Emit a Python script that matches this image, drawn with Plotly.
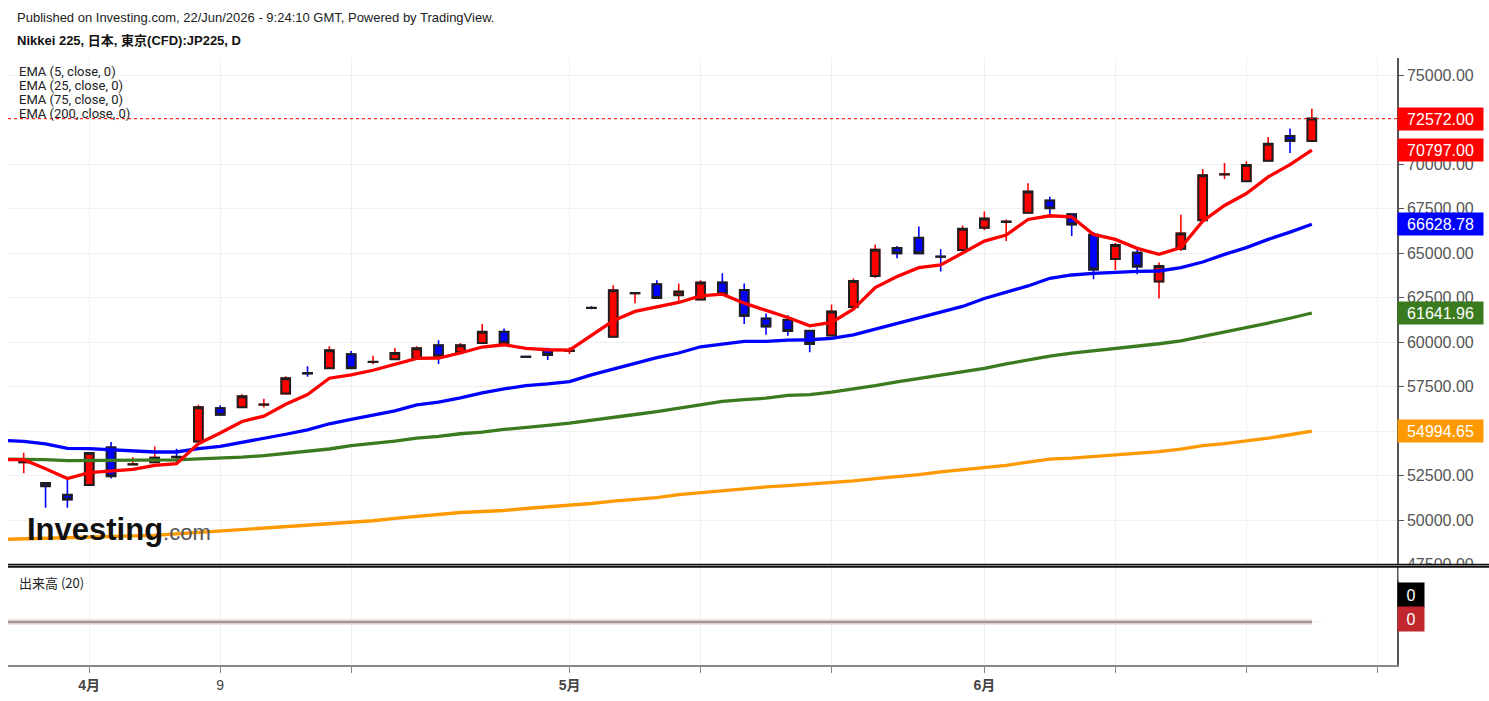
import plotly.graph_objects as go

# ---------------- data ----------------
candle_idx = list(range(60))
opens = [53241, 52087, 51414, 51975, 54082, 53120, 53241, 53555, 54418, 56291,
         56346, 56485, 57109, 58260, 58533, 59317, 58880, 59037, 59127, 59822,
         59446, 59951, 60584, 59185, 59575, 59510, 61935, 60304, 62745, 63258,
         62641, 62400, 63353, 62938, 61335, 61257, 60640, 60382, 61985, 63723,
         65292, 65875, 64820, 65180, 66436, 66765, 67276, 67966, 67198, 66043,
         64676, 65034, 63409, 65259, 66862, 69435, 69047, 70208, 71592, 71312]
highs = [53785, 52100, 52328, 53790, 54385, 53522, 54138, 54010, 56475, 56459,
         57075, 56812, 58084, 58645, 59766, 59502, 59239, 59670, 59766, 60102,
         59950, 61020, 60775, 59200, 59688, 59710, 62025, 63201, 62800, 63482,
         63297, 63482, 63874, 63297, 61615, 61520, 60660, 62120, 63577, 65483,
         65404, 66508, 65219, 66565, 67349, 66901, 68935, 68173, 67220, 66189,
         65595, 65219, 64474, 67164, 69742, 70079, 70169, 71536, 72018, 73122]
lows = [52625, 50685, 50685, 51960, 52328, 53073, 53230, 53263, 54400, 55900,
        56330, 56324, 57100, 58061, 58520, 58520, 58757, 59030, 59120, 58774,
        59440, 59940, 59766, 59160, 58998, 59334, 61856, 60290, 62193, 62456,
        62322, 62390, 62700, 61016, 60416, 60360, 59429, 60370, 61970, 63611,
        64715, 64990, 63970, 65170, 66301, 65685, 67260, 66996, 65965, 63538,
        64059, 63818, 62456, 65124, 66850, 69182, 69030, 70190, 70639, 71300]
closes = [53432, 51896, 51151, 53768, 52457, 53140, 53505, 53535, 56346, 55915,
          56963, 56500, 57972, 58245, 59541, 58533, 58895, 59390, 59654, 59205,
          59822, 60590, 59951, 59170, 59280, 59525, 61920, 62921, 62760, 62490,
          62848, 63353, 62714, 61481, 60887, 60623, 59895, 61727, 63443, 65202,
          64995, 64995, 64805, 66380, 66957, 66780, 68470, 67534, 66621, 64082,
          65460, 64250, 64283, 66116, 69384, 69450, 69967, 71161, 71312, 72572]
volume = [0, 0, 0, 0, 0, 0, 0, 0, 0, 0, 0, 0, 0, 0, 0, 0, 0, 0, 0, 0,
          0, 0, 0, 0, 0, 0, 0, 0, 0, 0, 0, 0, 0, 0, 0, 0, 0, 0, 0, 0,
          0, 0, 0, 0, 0, 0, 0, 0, 0, 0, 0, 0, 0, 0, 0, 0, 0, 0, 0, 0]

ema_idx = list(range(-1, 60))
volume_ma20 = [0, 0, 0, 0, 0, 0, 0, 0, 0, 0, 0, 0, 0, 0, 0, 0, 0, 0, 0, 0, 0,
               0, 0, 0, 0, 0, 0, 0, 0, 0, 0, 0, 0, 0, 0, 0, 0, 0, 0, 0, 0,
               0, 0, 0, 0, 0, 0, 0, 0, 0, 0, 0, 0, 0, 0, 0, 0, 0, 0, 0, 0]
ema5 = [53393, 53393, 52888, 52328, 52664, 52737, 52849, 53074, 53169, 54290, 54889,
        55540, 55842, 56504, 57053, 57972, 58157, 58421, 58774, 59093, 59110,
        59390, 59727, 59856, 59654, 59575, 59558, 60360, 61201, 61728, 61985,
        62232, 62602, 62697, 62193, 61800, 61391, 60920, 61111, 61856, 63073,
        63689, 64194, 64340, 65035, 65685, 66021, 66901, 67108, 67041, 66060,
        65780, 65276, 64939, 65315, 66806, 67686, 68358, 69294, 69984, 70797]
ema25 = [54486, 54419, 54279, 54026, 54009, 53937, 53881, 53824, 53824, 54009, 54138,
         54363, 54553, 54822, 55074, 55411, 55652, 55915, 56139, 56476, 56627,
         56868, 57148, 57372, 57557, 57653, 57782, 58157, 58493, 58830, 59127,
         59390, 59743, 59895, 60046, 60046, 60119, 60136, 60214, 60416, 60735,
         61072, 61391, 61671, 62008, 62456, 62793, 63162, 63594, 63779, 63874,
         63947, 63986, 64003, 64194, 64508, 64939, 65315, 65780, 66189, 66628.78]
ema75 = [53432, 53421, 53393, 53337, 53337, 53337, 53337, 53354, 53376, 53432, 53477,
         53533, 53617, 53729, 53881, 53993, 54178, 54290, 54441, 54609, 54699,
         54850, 54946, 55091, 55187, 55327, 55450, 55596, 55764, 55932, 56100,
         56291, 56504, 56672, 56773, 56851, 57008, 57053, 57188, 57356, 57557,
         57765, 57961, 58140, 58336, 58522, 58774, 58998, 59222, 59390, 59514,
         59671, 59794, 59911, 60074, 60315, 60556, 60803, 61077, 61346, 61641.96]
ema200 = [48909, 48937, 48965, 48993, 49021, 49049, 49077, 49133, 49217, 49301, 49385,
          49441, 49525, 49610, 49694, 49778, 49862, 49957, 50086, 50198, 50271,
          50422, 50478, 50534, 50646, 50731, 50815, 50927, 51067, 51151, 51263,
          51431, 51543, 51672, 51767, 51863, 51936, 52020, 52087, 52199, 52328,
          52423, 52552, 52703, 52832, 52984, 53074, 53253, 53421, 53477, 53561,
          53673, 53757, 53841, 53981, 54178, 54290, 54430, 54598, 54794, 54994.65]

price_ticks = [47500, 50000, 52500, 55000, 57500, 60000, 62500, 65000,
               67500, 70000, 72500, 75000]
x_tick_vals = [3, 9, 15, 25, 31, 37, 44, 50, 56, 62]
x_tick_text = ["<b>4月</b>", "9", "", "<b>5月</b>", "", "", "<b>6月</b>", "", "", ""]

ema_labels = ["EMA (5, close, 0)", "EMA (25, close, 0)",
              "EMA (75, close, 0)", "EMA (200, close, 0)"]

# ---------------- geometry ----------------
W, H = 1489, 701
ML, MR, MT, MB = 8, 92, 58, 34
PW = W - ML - MR
PH = H - MT - MB


def pxx(px):
    return (px - ML) / PW


def pxy(py):
    return (H - MB - py) / PH


RED = "#ff0000"
BLUE = "#0000ff"
GREEN = "#3b7b1f"
ORANGE = "#ff9900"
GRID = "#f0f0f0"
FONT = "Liberation Sans, Arial, Noto Sans CJK JP"

body_hi = [max(o, c) for o, c in zip(opens, closes)]
body_lo = [min(o, c) for o, c in zip(opens, closes)]

fig = go.Figure()

# EMA lines
for vals, col in [(ema200, ORANGE), (ema75, GREEN), (ema25, BLUE), (ema5, RED)]:
    fig.add_trace(go.Scatter(x=ema_idx, y=vals, mode="lines",
                             line=dict(color=col, width=3.3),
                             hoverinfo="skip", showlegend=False,
                             xaxis="x", yaxis="y"))

# wicks
fig.add_trace(go.Candlestick(
    x=candle_idx, open=opens, high=highs, low=lows, close=closes,
    increasing=dict(line=dict(color=RED, width=1.6), fillcolor=RED),
    decreasing=dict(line=dict(color=BLUE, width=1.6), fillcolor=BLUE),
    whiskerwidth=0, hoverinfo="skip", showlegend=False, xaxis="x", yaxis="y"))

# bodies with dark outline
fig.add_trace(go.Candlestick(
    x=candle_idx, open=opens, high=body_hi, low=body_lo, close=closes,
    increasing=dict(line=dict(color="#1e1e1e", width=2), fillcolor=RED),
    decreasing=dict(line=dict(color="#1e1e1e", width=2), fillcolor=BLUE),
    whiskerwidth=0, hoverinfo="skip", showlegend=False, xaxis="x", yaxis="y"))

# volume pane
fig.add_trace(go.Bar(x=candle_idx, y=volume, marker=dict(color="#f2b8b8"),
                     hoverinfo="skip", showlegend=False, xaxis="x2", yaxis="y2"))
fig.add_trace(go.Scatter(x=ema_idx, y=volume_ma20, mode="lines",
                         line=dict(color="#e9c9c9", width=5),
                         hoverinfo="skip", showlegend=False, xaxis="x2", yaxis="y2"))
fig.add_trace(go.Scatter(x=ema_idx, y=volume_ma20, mode="lines",
                         line=dict(color="#9a9a9a", width=2),
                         hoverinfo="skip", showlegend=False, xaxis="x2", yaxis="y2"))

xr = [-0.72, 62.9]

fig.update_layout(
    width=W, height=H,
    margin=dict(l=ML, r=MR, t=MT, b=MB),
    paper_bgcolor="white", plot_bgcolor="white",
    boxgap=0.43,
    font=dict(family=FONT, color="#333"),
    xaxis=dict(domain=[0, 1], range=xr, anchor="y", matches="x2",
               tickvals=x_tick_vals, showticklabels=False, ticks="",
               showgrid=True, gridcolor=GRID, gridwidth=1, zeroline=False,
               showline=False, rangeslider=dict(visible=False)),
    yaxis=dict(domain=[pxy(566.3), 1], range=[47490, 75981], side="right",
               anchor="x", tickvals=price_ticks,
               ticktext=[f"{v:.2f}" for v in price_ticks],
               showgrid=True, gridcolor=GRID, gridwidth=1, zeroline=False,
               ticks="outside", ticklen=5, tickcolor="#555", tickwidth=1,
               showline=True, linecolor="#555", linewidth=1.5,
               tickfont=dict(size=16, color="#555", family=FONT)),
    xaxis2=dict(domain=[0, 1], range=xr, anchor="y2",
                tickvals=x_tick_vals, ticktext=x_tick_text,
                ticks="outside", ticklen=6, tickcolor="#888", tickwidth=1,
                showline=True, linecolor="#888", linewidth=2,
                showgrid=True, gridcolor=GRID, gridwidth=1, zeroline=False,
                tickfont=dict(size=14, color="#444", family=FONT)),
    yaxis2=dict(domain=[0, pxy(569)], range=[-0.88, 1.12], side="right",
                anchor="x2", showticklabels=False, showgrid=False,
                zeroline=False, ticks="", showline=True, linecolor="#555",
                linewidth=1.5),
    showlegend=False,
)

shapes = []
# cover the lower half of the 47500 label like the pane separator does
shapes.append(dict(type="rect", xref="paper", yref="paper",
                   x0=pxx(1398.5), x1=pxx(1489), y0=pxy(582), y1=pxy(567),
                   fillcolor="white", line=dict(width=0), layer="above"))
for yy in (566.3, 568.6):
    shapes.append(dict(type="line", xref="paper", yref="paper",
                       x0=0, x1=pxx(1489), y0=pxy(yy), y1=pxy(yy),
                       line=dict(color="#111", width=1.6), layer="above"))
# last price dotted line
shapes.append(dict(type="line", xref="paper", yref="y", x0=0, x1=1,
                   y0=closes[-1], y1=closes[-1],
                   line=dict(color=RED, width=1, dash="dot"), layer="above"))
fig.update_layout(shapes=shapes)

ann = []
ann.append(dict(text="Published on Investing.com, 22/Jun/2026 - 9:24:10 GMT, Powered by TradingView.",
                xref="paper", yref="paper", x=pxx(15), y=pxy(17),
                xanchor="left", yanchor="middle", showarrow=False,
                font=dict(size=13, color="#222", family=FONT)))
ann.append(dict(text="<b>Nikkei 225, 日本, 東京(CFD):JP225, D</b>",
                xref="paper", yref="paper", x=pxx(15), y=pxy(40),
                xanchor="left", yanchor="middle", showarrow=False,
                font=dict(size=13, color="#111", family=FONT)))
for k, lab in enumerate(ema_labels):
    ann.append(dict(text=lab, xref="paper", yref="paper",
                    x=pxx(17), y=pxy(72 + 14 * k),
                    xanchor="left", yanchor="middle", showarrow=False,
                    font=dict(size=13, color="#222", family="Roboto")))
ann.append(dict(text="出来高 (20)", xref="paper", yref="paper",
                x=pxx(17), y=pxy(584), xanchor="left", yanchor="middle",
                showarrow=False,
                font=dict(size=13, color="#222", family="Noto Sans CJK JP")))
ann.append(dict(text="<b>Investing</b><span style='font-size:22px;color:#555'>.com</span>",
                xref="paper", yref="paper", x=pxx(25), y=pxy(531),
                xanchor="left", yanchor="middle", showarrow=False,
                font=dict(size=31, color="#111", family=FONT)))

# right-side value labels
for val, col in [(closes[-1], RED), (ema5[-1], RED), (ema25[-1], BLUE),
                 (ema75[-1], GREEN), (ema200[-1], ORANGE)]:
    ann.append(dict(text=f"{val:.2f}", xref="paper", yref="y", x=1, y=val,
                    xanchor="left", yanchor="middle", showarrow=False,
                    width=81, height=18, borderpad=2, align="center",
                    bgcolor=col, font=dict(size=16, color="white", family=FONT)))
# volume pane value labels
for py, col in [(597, "#000000"), (621, "#c1272d")]:
    ann.append(dict(text="0", xref="paper", yref="paper", x=1, y=pxy(py),
                    xanchor="left", yanchor="middle", showarrow=False,
                    width=22, height=20, borderpad=2, align="center",
                    bgcolor=col, font=dict(size=16, color="white", family=FONT)))
fig.update_layout(annotations=ann)

fig.write_html("out.html")
